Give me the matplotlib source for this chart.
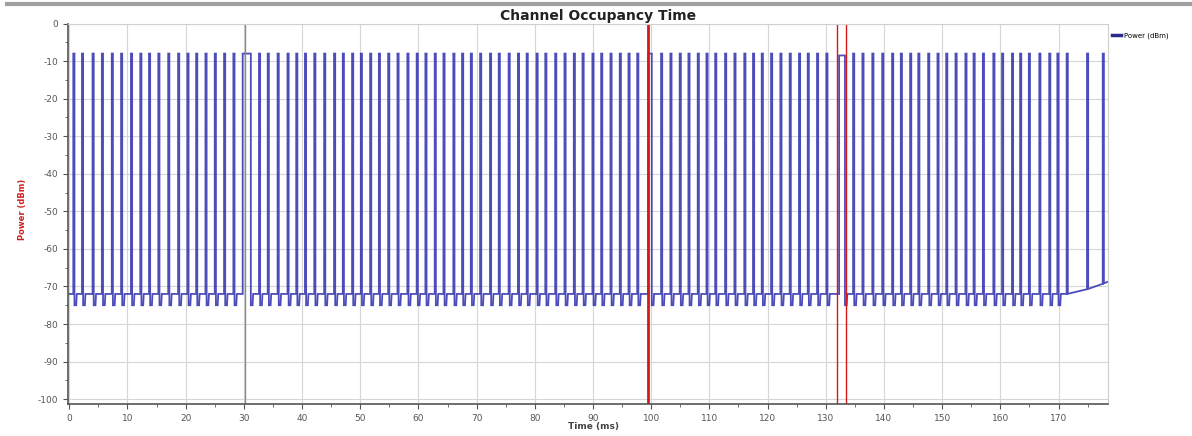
import numpy as np
import matplotlib
matplotlib.use("Agg")
import matplotlib.pyplot as plt
from matplotlib.ticker import MultipleLocator
from matplotlib.lines import Line2D

plt.rcParams["axes.unicode_minus"] = False

# ---- data ----
pulse_starts = [0.69, 2.18, 4.0, 5.6, 7.3, 8.9, 10.6, 12.2, 13.7, 15.3, 17.0, 18.7,
                20.3, 21.8, 23.4, 25.0, 26.6, 28.2, 29.8, 32.6, 34.1, 35.8, 37.5,
                39.0, 40.5, 42.1, 43.8, 45.5, 47.0, 48.6, 50.1, 51.7, 53.2, 54.8,
                56.4, 58.1, 59.7, 61.2, 62.8, 64.3, 66.0, 67.5, 69.0, 70.6, 72.3,
                73.8, 75.5, 77.1, 78.6, 80.3, 81.8, 83.5, 85.1, 86.7, 88.2, 89.9,
                91.4, 93.0, 94.6, 96.1, 97.6, 99.5, 101.7, 103.3, 104.9, 106.4,
                108.0, 109.5, 111.0, 112.7, 114.3, 116.0, 117.5, 119.0, 120.6,
                122.2, 123.8, 125.4, 126.9, 128.5, 130.1, 132.3, 134.7, 136.3,
                138.0, 139.7, 141.4, 142.9, 144.5, 145.9, 147.6, 149.2, 150.7,
                152.3, 154.0, 155.4, 157.0, 158.8, 160.3, 162.0, 163.4, 164.9,
                166.7, 168.4, 169.8, 171.4, 174.9, 177.6]
long_pulse_starts = [29.8, 99.5, 132.3]
long_pulse_ends = [31.2, 100.1, 133.3]
long_pulse_tops = [-8.0, -8.0, -8.5]
pulse_top = -8.0
pulse_width = 0.2
baseline_level = -72.0
dip_level = -75.0
dip_end_time = 171.6
ramp_times = [0.0, 171.5, 173.5, 176.0, 178.4]
ramp_levels = [-72.0, -72.0, -71.3, -70.3, -68.8]
trace_end = 178.4

gray_marker = 30.2
red_markers = [99.4, 132.0, 133.5]
red_widths = [2.0, 1.0, 1.0]

x_ticks = list(range(0, 171, 10))
y_ticks = list(range(-100, 1, 10))

# ---- build trace vertices ----
def base_at(t):
    return float(np.interp(t, ramp_times, ramp_levels))

tx, ty = [0.0], [baseline_level]
for s in pulse_starts:
    if s in long_pulse_starts:
        k = long_pulse_starts.index(s)
        e, top = long_pulse_ends[k], long_pulse_tops[k]
    else:
        e, top = s + pulse_width, pulse_top
    b = base_at(s)
    tx += [s, s, e]
    ty += [b, top, top]
    if e < dip_end_time:
        tx += [e, e + 0.3, e + 0.4]
        ty += [dip_level, dip_level, base_at(e + 0.4)]
    else:
        tx += [e]
        ty += [base_at(e)]
tx.append(trace_end)
ty.append(base_at(trace_end))

# ---- figure ----
fig = plt.figure(figsize=(11.92, 4.36), dpi=100)
ax = fig.add_axes([0.0568, 0.0734, 0.8727, 0.8726])

ax.plot(tx, ty, color="#2e2eae", lw=1.3, alpha=0.85, solid_joinstyle="miter")

ax.axvline(gray_marker, color="#8a8a8a", lw=1.0)
for xm, w in zip(red_markers, red_widths):
    ax.axvline(xm, color="#d81818", lw=w)

ax.set_xlim(-0.27, 178.5)
ax.set_ylim(-101.3, 0)
ax.set_xticks(x_ticks)
ax.set_yticks(y_ticks)
ax.xaxis.set_minor_locator(MultipleLocator(5))
ax.yaxis.set_minor_locator(MultipleLocator(5))
ax.grid(True, which="major", color="#d6d6d6", lw=0.8)
ax.set_axisbelow(True)
ax.tick_params(which="major", labelsize=6.5, labelcolor="#555555", color="#555555", length=3.5)
ax.tick_params(which="minor", color="#555555", length=2)

for side in ["left", "bottom"]:
    ax.spines[side].set_color("#555555")
    ax.spines[side].set_linewidth(1.2)
for side in ["top", "right"]:
    ax.spines[side].set_color("#d0d0d0")
    ax.spines[side].set_linewidth(0.8)

# texts
fig.text(0.502, 0.963, "Channel Occupancy Time", ha="center", va="center",
         fontsize=10, fontweight="bold", color="#222222")
fig.text(0.019, 0.52, "Power (dBm)", rotation=90, ha="center", va="center",
         fontsize=6, fontweight="bold", color="#d02020")
fig.text(0.498, 0.021, "Time (ms)", ha="center", va="center",
         fontsize=6.5, fontweight="bold", color="#444444")

# legend
fig.legend([Line2D([0], [0], color="#2a2a8c", lw=2.5)], ["Power (dBm)"],
           loc="center left", bbox_to_anchor=(0.928, 0.918), frameon=False,
           fontsize=5, handlelength=1.2, handletextpad=0.5)

# top border line
fig.add_artist(Line2D([0.006, 1.0], [0.991, 0.991], color="#a0a0a0", lw=3,
                      transform=fig.transFigure))

fig.savefig("out.png", dpi=100)
